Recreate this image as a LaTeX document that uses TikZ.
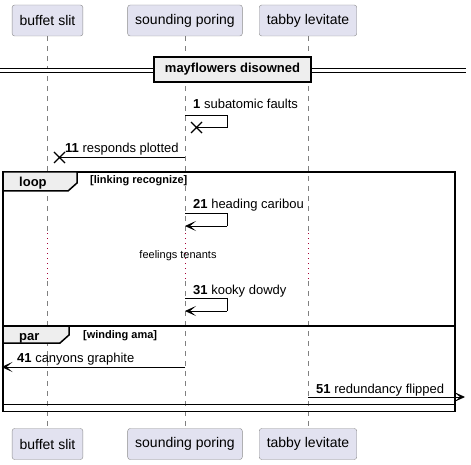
\documentclass[tikz,border=0pt]{standalone}
\usepackage{fontspec}
\setmainfont{Liberation Sans}
\usetikzlibrary{arrows.meta,calc}
\definecolor{partfill}{HTML}{E2E2F0}
\definecolor{partline}{HTML}{8C8C8C}
\definecolor{grpfill}{HTML}{EEEEEE}
\definecolor{delayred}{HTML}{A80036}
\def\killcross(#1){\draw[line width=1.4pt] ($(#1)+(-5.5,-5.5)$) -- ($(#1)+(5.5,5.5)$) ($(#1)+(-5.5,5.5)$) -- ($(#1)+(5.5,-5.5)$);}
\tikzset{
  part/.style={draw=partline, fill=partfill, rounded corners=2.5pt, minimum height=31pt, inner xsep=7.5pt, font=\fontsize{14}{16}\selectfont},
  lifeline/.style={draw=gray, dash pattern=on 5pt off 5pt, line width=0.6pt},
  delayline/.style={draw=delayred, dash pattern=on 1.2pt off 3.8pt, line width=1pt},
  msg/.style={line width=0.9pt},
  msgarrow/.style={line width=0.9pt, -{Stealth[length=11pt,width=10pt,inset=6pt]}},
  msgtext/.style={anchor=base west, inner sep=0pt, font=\fontsize{13}{15}\selectfont},
  grptext/.style={anchor=base west, inner sep=0pt, font=\bfseries\fontsize{11}{13}\selectfont},
  frame/.style={line width=1.5pt}
}

\begin{document}
\begin{tikzpicture}[x=1pt,y=-1pt]
			\useasboundingbox (0,0) rectangle (471,465);
			%%%%% START %%%%%
			\node[part] (bs) at (47.5,20.5) {buffet slit};
			\node[part] (sp) at (185,20.5) {sounding poring};
			\node[part] (tl) at (308,20.5) {tabby levitate};
			\node[part] (bsB) at (47.5,444) {buffet slit};
			\node[part] (spB) at (185,444) {sounding poring};
			\node[part] (tlB) at (308,444) {tabby levitate};
			
			% lifelines, with the delay
			\foreach \p in {bs,sp,tl}{
				\coordinate (\p d1) at (\p.south |- 0,233);
				\coordinate (\p d2) at (\p.south |- 0,281);
				\draw[lifeline] (\p.south) -- (\p d1);
				\draw[delayline] (\p d1) -- (\p d2);
				\draw[lifeline] (\p d2) -- (\p B.north);
			}
			
			% divider
			\fill[white] (0,68) rectangle (466,72);
			\draw[line width=0.9pt] (0,68) -- (466,68);
			\draw[line width=0.9pt] (0,72) -- (466,72);
			\node[draw, fill=grpfill, line width=1.5pt, minimum width=157pt, minimum height=25pt, inner sep=0pt, font=\bfseries\fontsize{13}{15}\selectfont] (div) at (232.5,69.5) {mayflowers disowned};
			
			% 1 and 11
			\coordinate (m1a) at (sp.south |- 0,115);
			\coordinate (m1b) at (227,115);
			\coordinate (m1c) at (227,127.5);
			\coordinate (m1x) at (196.5,127.5);
			\draw[msg] (m1a) -- (m1b) -- (m1c) -- (m1x);
			\killcross(m1x)
			\node[msgtext] (t1) at (193,109) {\textbf{1} subatomic faults};
			
			\coordinate (m11a) at (sp.south |- 0,157.5);
			\coordinate (m11x) at (59.5,157.5);
			\draw[msg] (m11a) -- (m11x);
			\killcross(m11x)
			\node[msgtext] (t11) at (65,152.5) {\textbf{11} responds plotted};
			
			% loop
			\draw[frame] (3,172) rectangle (455,411.5);
			\draw[frame, fill=grpfill] (3,172) -- (77,172) -- (77,183) -- (68,191) -- (3,191) -- cycle;
			\node[grptext, font=\bfseries\fontsize{13}{15}\selectfont] (lp) at (19,186) {loop};
			\node[grptext] (lpc) at (90,184) {[linking recognize]};
			
			\coordinate (m21a) at (sp.south |- 0,213);
			\coordinate (m21b) at (227,213);
			\coordinate (m21c) at (227,226);
			\coordinate (m21d) at (sp.south |- 0,226);
			\draw[msg] (m21a) -- (m21b) -- (m21c);
			\draw[msgarrow] (m21c) -- (m21d);
			\node[msgtext] (t21) at (193,209) {\textbf{21} heading caribou};
			
			\node[font=\fontsize{11}{13}\selectfont, inner sep=0pt] (dl) at (178,256) {feelings tenants};
			
			\coordinate (m31a) at (sp.south |- 0,298);
			\coordinate (m31b) at (227,298);
			\coordinate (m31c) at (227,311);
			\coordinate (m31d) at (sp.south |- 0,311);
			\draw[msg] (m31a) -- (m31b) -- (m31c);
			\draw[msgarrow] (m31c) -- (m31d);
			\node[msgtext] (t31) at (193,294) {\textbf{31} kooky dowdy};
			
			% par
			\draw[frame] (3,326) rectangle (455,404.5);
			\draw[frame, fill=grpfill] (3,326) -- (69,326) -- (69,335) -- (60,343) -- (3,343) -- cycle;
			\node[grptext, font=\bfseries\fontsize{13}{15}\selectfont] (pr) at (19,340) {par};
			\node[grptext] (prc) at (83,338) {[winding ama]};
			
			\coordinate (m41a) at (sp.south |- 0,367);
			\coordinate (m41b) at (1.5,367);
			\draw[msgarrow] (m41a) -- (m41b);
			\node[msgtext] (t41) at (17,362) {\textbf{41} canyons graphite};
			
			\coordinate (m51a) at (tl.south |- 0,397);
			\coordinate (m51b) at (465,397);
			\draw[msgarrow] (m51a) -- (m51b);
			\node[msgtext] (t51) at (316,393) {\textbf{51} redundancy flipped};
			%%%%% END %%%%%
		\end{tikzpicture}
\end{document}
